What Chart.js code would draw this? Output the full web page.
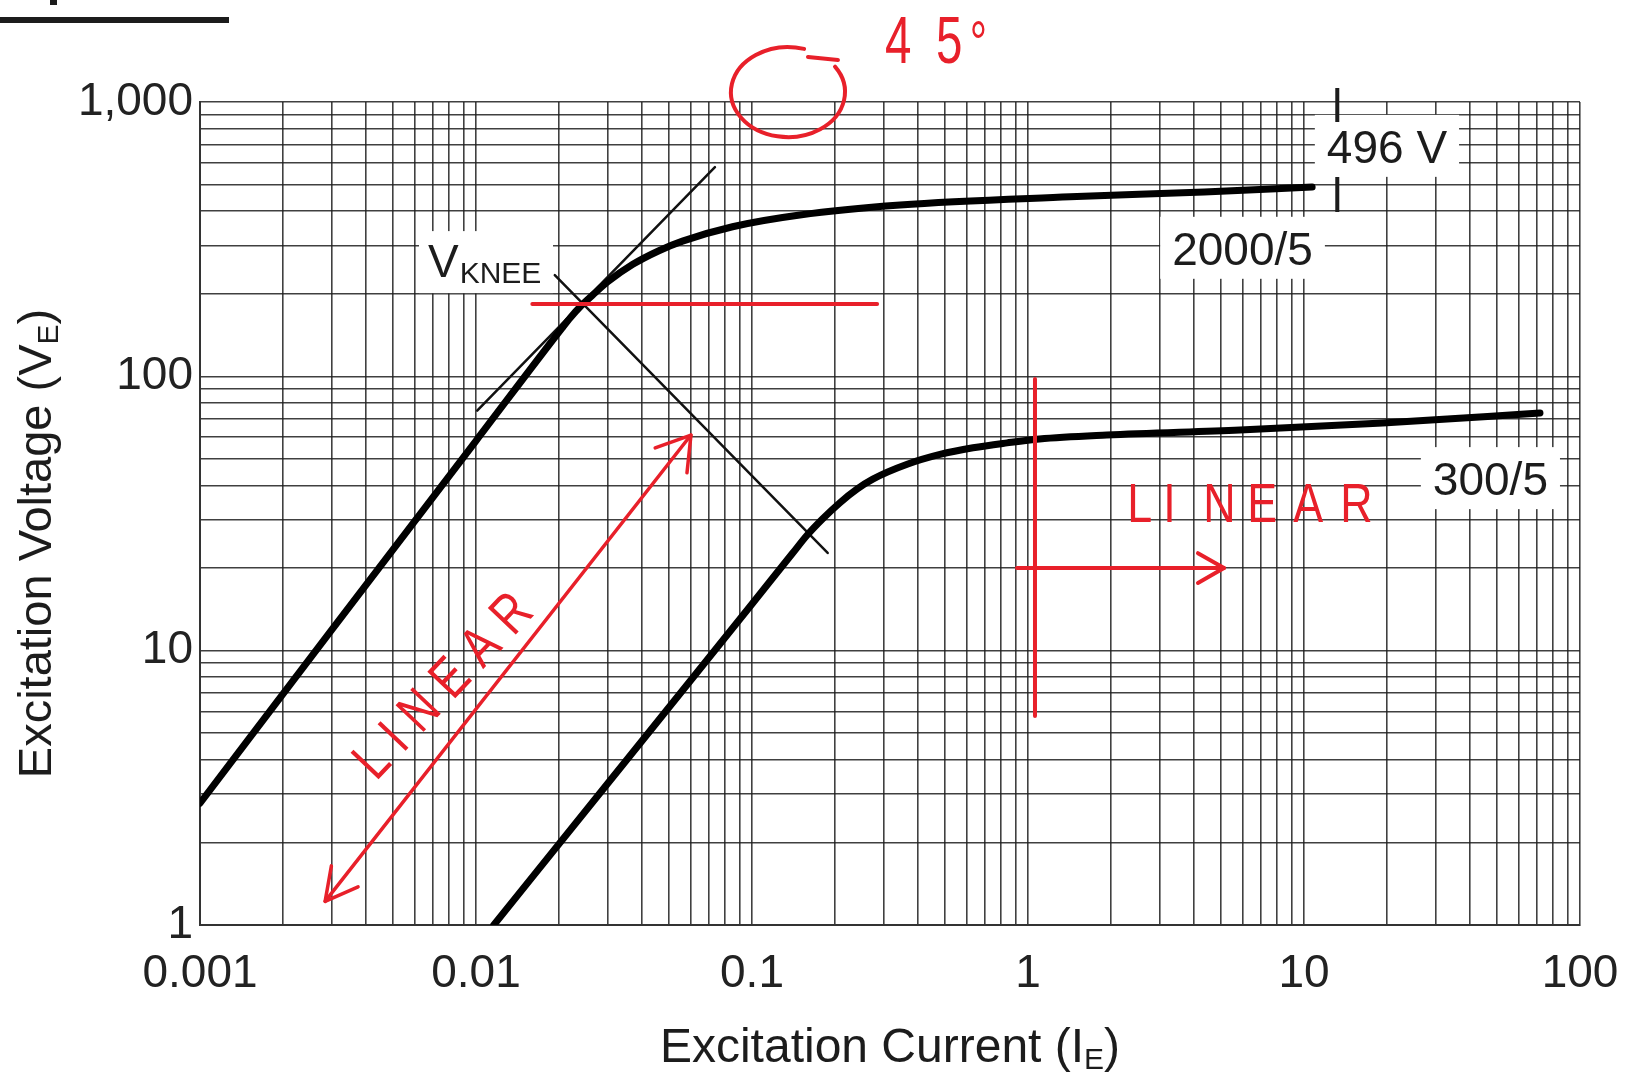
<!DOCTYPE html>
<html lang="en">
<head>
<meta charset="UTF-8">
<title>CT Excitation Curves</title>
<script src="https://cdn.jsdelivr.net/npm/chart.js"></script>
<style>
  html, body { margin: 0; padding: 0; background: #fff; }
  #wrap { width: 1652px; height: 1080px; }
</style>
</head>
<body>
<div id="wrap"><canvas id="chart" width="1652" height="1080"></canvas></div>
<script>
// excitation curves (current in A, voltage in V)
const current2000 = [0.001, 0.003, 0.01, 0.0205, 0.022, 0.0238, 0.0265, 0.03, 0.037, 0.046, 0.056, 0.085, 0.149, 0.344, 1.42, 4.35, 10.7];
const voltage2000 = [2.78, 11.9, 58.2, 150, 164, 179, 198, 221, 256, 287, 311, 351, 387.3, 421.2, 451, 470, 490];
const current300 = [0.0116, 0.03, 0.06, 0.1, 0.14, 0.158, 0.18, 0.208, 0.24, 0.274, 0.365, 0.48, 0.632, 0.84, 1.1, 1.93, 5.86, 19.3, 71.6];
const voltage300 = [1, 3.28, 7.8, 14.8, 22.6, 26.3, 30.2, 34.6, 38.8, 42.2, 47.8, 51.9, 54.9, 57.2, 59.1, 61.1, 63.7, 67.6, 73.5];

// thin construction lines at the knee
const tangentCurrent = [0.0101, 0.0734];
const tangentVoltage = [75, 579];
const normalCurrent = [0.0193, 0.188];
const normalVoltage = [234, 22.7];

// red hand markup
const kneeMarkCurrent = [0.016, 0.284];
const kneeMarkVoltage = [183.5, 183.5];
const limitCurrent = [1.06, 1.06];
const limitVoltage = [97.7, 5.78];
const rightArrowCurrent = [0.912, 5.13];
const rightArrowVoltage = [20, 20];
const slopeArrowCurrent = [0.00284, 0.0601];
const slopeArrowVoltage = [1.22, 61.1];

const xTickLabels = ['0.001', '0.01', '0.1', '1', '10', '100'];
const yTickLabels = ['1', '10', '100', '1,000'];

const RED = '#e8202a';
const INK = '#1c1c1c';
const FONT = '"Liberation Sans", Arial, sans-serif';

const pts = (xs, ys) => xs.map((x, i) => ({ x: x, y: ys[i] }));

function line(xs, ys, color, width, order, smooth) {
  return {
    data: pts(xs, ys),
    borderColor: color,
    borderWidth: width,
    borderCapStyle: 'round',
    borderJoinStyle: 'round',
    pointRadius: 0,
    fill: false,
    order: order,
    cubicInterpolationMode: smooth ? 'monotone' : 'default',
    tension: smooth ? 0.4 : 0
  };
}

function logTicks(lo, hi) {
  const t = [];
  for (let e = lo; e < hi; e++) {
    for (let m = 1; m < 10; m++) t.push({ value: +(m * Math.pow(10, e)).toPrecision(3) });
  }
  t.push({ value: Math.pow(10, hi) });
  return t;
}

function decadeLabel(labels, offset) {
  return function (v) {
    const e = Math.log10(v);
    if (Math.abs(e - Math.round(e)) < 1e-6) return labels[Math.round(e) + offset];
    return '';
  };
}

function arrowHead(ctx, tx, ty, fx, fy, len, spread) {
  const a = Math.atan2(fy - ty, fx - tx);
  ctx.beginPath();
  ctx.moveTo(tx + len * Math.cos(a + spread), ty + len * Math.sin(a + spread));
  ctx.lineTo(tx, ty);
  ctx.lineTo(tx + len * Math.cos(a - spread), ty + len * Math.sin(a - spread));
  ctx.stroke();
}

function subTitle(ctx, main, sub, tail, cx, y, size, subSize) {
  ctx.font = size + 'px ' + FONT;
  const w1 = ctx.measureText(main).width;
  const w3 = ctx.measureText(tail).width;
  ctx.font = subSize + 'px ' + FONT;
  const w2 = ctx.measureText(sub).width;
  let x = cx - (w1 + w2 + w3) / 2;
  ctx.textAlign = 'left';
  ctx.textBaseline = 'alphabetic';
  ctx.font = size + 'px ' + FONT;
  ctx.fillText(main, x, y);
  ctx.font = subSize + 'px ' + FONT;
  ctx.fillText(sub, x + w1, y + 7);
  ctx.font = size + 'px ' + FONT;
  ctx.fillText(tail, x + w1 + w2, y);
}

// narrow "handwritten" letters: squeezed horizontally, placed one by one
function handText(ctx, str, x, y, size, squeeze, gap) {
  ctx.save();
  ctx.translate(x, y);
  ctx.scale(squeeze, 1);
  ctx.font = size + 'px ' + FONT;
  let cx = 0;
  for (const ch of str) {
    ctx.fillText(ch, cx, 0);
    cx += ctx.measureText(ch).width + gap / squeeze;
  }
  ctx.restore();
}

// plain text labels sitting on white patches over the grid
const curveLabels = [
  { text: '2000/5', at: [3.33, 255] },
  { text: '496 V', at: [12.1, 600] },
  { text: '300/5', at: [29.3, 36.9] }
];

const markup = {
  id: 'markup',
  beforeDatasetsDraw(chart) {
    const ctx = chart.ctx, xs = chart.scales.x, ys = chart.scales.y;
    ctx.save();
    ctx.fillStyle = '#fff';
    ctx.font = '46px ' + FONT;
    curveLabels.forEach(l => {
      const x = xs.getPixelForValue(l.at[0]), y = ys.getPixelForValue(l.at[1]);
      const w = ctx.measureText(l.text).width;
      ctx.fillRect(x - 12, y - 48, w + 24, 62);
    });
    // V_KNEE patch
    const kx = xs.getPixelForValue(0.0067), ky = ys.getPixelForValue(230);
    ctx.fillRect(kx - 9, ky - 46, 134, 62);
    ctx.restore();
  },
  afterDatasetsDraw(chart) {
    const ctx = chart.ctx, xs = chart.scales.x, ys = chart.scales.y, area = chart.chartArea;
    const px = v => xs.getPixelForValue(v), py = v => ys.getPixelForValue(v);
    ctx.save();

    // curve labels
    ctx.fillStyle = INK;
    ctx.textAlign = 'left';
    ctx.textBaseline = 'alphabetic';
    ctx.font = '46px ' + FONT;
    curveLabels.forEach(l => ctx.fillText(l.text, px(l.at[0]), py(l.at[1])));

    // V_KNEE
    const kx = px(0.0067), ky = py(230);
    ctx.font = '46px ' + FONT;
    ctx.fillText('V', kx, ky);
    const vw = ctx.measureText('V').width;
    ctx.font = '30px ' + FONT;
    ctx.fillText('KNEE', kx + vw + 1, ky + 6);

    // 496 V marker tick
    ctx.strokeStyle = INK;
    ctx.lineWidth = 4;
    ctx.beginPath();
    ctx.moveTo(px(13.2), py(1125)); ctx.lineTo(px(13.2), py(845));
    ctx.moveTo(px(13.2), py(533)); ctx.lineTo(px(13.2), py(397));
    ctx.stroke();

    // red arrow heads
    ctx.strokeStyle = RED;
    ctx.lineCap = 'round';
    ctx.lineJoin = 'round';
    ctx.lineWidth = 3.5;
    const a0x = px(slopeArrowCurrent[0]), a0y = py(slopeArrowVoltage[0]);
    const a1x = px(slopeArrowCurrent[1]), a1y = py(slopeArrowVoltage[1]);
    arrowHead(ctx, a0x, a0y, a1x, a1y, 36, 0.49);
    arrowHead(ctx, a1x, a1y, a0x, a0y, 38, 0.56);
    ctx.lineWidth = 4;
    arrowHead(ctx, px(rightArrowCurrent[1]), py(rightArrowVoltage[1]),
      px(rightArrowCurrent[0]), py(rightArrowVoltage[0]), 30, 0.52);

    // red circle and 45 deg note
    const cx = px(0.135), cy = py(1087);
    ctx.lineWidth = 4;
    ctx.beginPath();
    ctx.ellipse(cx, cy, 57, 45, 0, -0.6, 5.0);
    ctx.stroke();
    ctx.beginPath();
    ctx.moveTo(cx + 20, cy - 35);
    ctx.lineTo(cx + 50, cy - 32);
    ctx.stroke();

    ctx.fillStyle = RED;
    const nx = px(0.303), ny = py(1388);
    ctx.save();
    ctx.translate(nx, ny);
    ctx.scale(0.72, 1);
    ctx.font = '66px ' + FONT;
    ctx.fillText('4', 0, 0);
    ctx.fillText('5', 71, 0);
    ctx.font = '60px ' + FONT;
    ctx.fillText('\u00b0', 118, 0);
    ctx.restore();

    // diagonal LINEAR along the slope arrow
    ctx.save();
    ctx.translate(px(0.00434), py(3.32));
    ctx.rotate(-46.5 * Math.PI / 180);
    handText(ctx, 'LINEAR', 0, 0, 56, 0.8, 14);
    ctx.restore();

    // horizontal LINEAR, letters grouped in pairs like the hand note
    const hx = px(2.29), hy = py(29.5);
    const offs = [0, 36, 76, 120, 166, 213];
    'LINEAR'.split('').forEach((ch, i) => handText(ctx, ch, hx + offs[i], hy, 56, 0.8, 0));

    // axis titles
    ctx.fillStyle = INK;
    subTitle(ctx, 'Excitation Current (I', 'E', ')', (area.left + area.right) / 2, chart.height - 18, 48, 30);
    ctx.save();
    ctx.translate(51, (area.top + area.bottom) / 2 + 30);
    ctx.rotate(-Math.PI / 2);
    subTitle(ctx, 'Excitation Voltage (V', 'E', ')', 0, 0, 47, 30);
    ctx.restore();

    // rule left over from the page above the chart
    ctx.fillStyle = INK;
    ctx.fillRect(0, 17, 229, 6);
    ctx.fillRect(50, 0, 7, 5);

    ctx.restore();
  }
};

const gridStyle = { color: 'rgba(30,30,30,0.85)', lineWidth: 1.6, drawTicks: false };
const borderStyle = { display: true, color: '#333', width: 2 };

new Chart(document.getElementById('chart'), {
  type: 'line',
  data: {
    datasets: [
      line(kneeMarkCurrent, kneeMarkVoltage, RED, 4, 0, false),
      line(limitCurrent, limitVoltage, RED, 4, 0, false),
      line(rightArrowCurrent, rightArrowVoltage, RED, 4, 0, false),
      line(slopeArrowCurrent, slopeArrowVoltage, RED, 3.5, 0, false),
      line(current2000, voltage2000, '#000', 7, 1, true),
      line(current300, voltage300, '#000', 7, 1, true),
      line(tangentCurrent, tangentVoltage, '#111', 2.5, 2, false),
      line(normalCurrent, normalVoltage, '#111', 2.5, 2, false)
    ]
  },
  options: {
    responsive: false,
    animation: false,
    devicePixelRatio: 1,
    layout: { padding: { top: 102, right: 72, bottom: 0, left: 0 } },
    plugins: { legend: { display: false }, tooltip: { enabled: false } },
    scales: {
      x: {
        type: 'logarithmic',
        min: 0.001,
        max: 100,
        afterBuildTicks: s => { s.ticks = logTicks(-3, 2); },
        afterFit: s => { s.height = 155; },
        grid: gridStyle,
        border: borderStyle,
        ticks: {
          autoSkip: false,
          maxRotation: 0,
          padding: 22,
          color: '#222',
          font: { family: FONT, size: 46 },
          callback: decadeLabel(xTickLabels, 3)
        }
      },
      y: {
        type: 'logarithmic',
        min: 1,
        max: 1000,
        afterBuildTicks: s => { s.ticks = logTicks(0, 3); },
        afterFit: s => { s.width = 200; },
        grid: gridStyle,
        border: borderStyle,
        ticks: {
          autoSkip: false,
          padding: 7,
          color: '#222',
          font: { family: FONT, size: 46 },
          callback: decadeLabel(yTickLabels, 0)
        }
      }
    }
  },
  plugins: [markup]
});
</script>
</body>
</html>
